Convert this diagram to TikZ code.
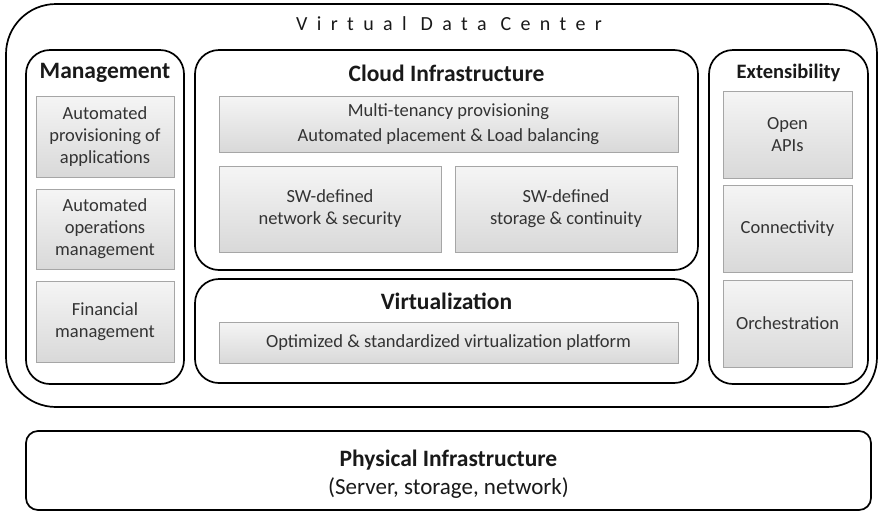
\documentclass[tikz,border=0pt]{standalone}
\usepackage{fontspec}
\setmainfont{Carlito}
\usetikzlibrary{shadows}
\tikzset{
  panel/.style={draw=black, line width=1.7pt, rounded corners=24pt, fill=white, inner sep=0pt},
  cell/.style={draw=gray!70, line width=0.8pt, top color=gray!8, bottom color=gray!30,
    inner sep=0pt, align=center, text=black!80, font=\fontsize{18.5}{22}\selectfont,
    drop shadow={opacity=0.25, shadow xshift=1pt, shadow yshift=-1pt}},
  heading/.style={font=\bfseries\fontsize{23.5}{26}\selectfont, text=black!90},
}
\begin{document}
\begin{tikzpicture}[x=1pt, y=-1pt]
\useasboundingbox (0,0) rectangle (880,512);
% outer data-center frame
\node[panel, rounded corners=50pt, minimum width=871pt, minimum height=403pt] (vdc) at (441.5,205.5) {};
\node[font=\fontsize{20}{24}\selectfont\addfontfeature{LetterSpace=47}, text=black!90] (vdctitle) at (449,24) {Virtual Data Center};

% management column
\node[panel, minimum width=158pt, minimum height=334pt] (mgmt) at (105,217) {};
\node[heading] (mgmttitle) at (105,73) {Management};
\node[cell, minimum width=138pt, minimum height=81pt] (m1) at (105,136.5) {Automated\\provisioning of\\applications};
\node[cell, minimum width=138pt, minimum height=80pt] (m2) at (105,229) {Automated\\operations\\management};
\node[cell, minimum width=138pt, minimum height=81pt] (m3) at (105,321.5) {Financial\\management};

% cloud infrastructure
\node[panel, minimum width=503pt, minimum height=220pt] (cloud) at (446.5,160) {};
\node[heading] (cloudtitle) at (446.5,73) {Cloud Infrastructure};
\node[cell, minimum width=459pt, minimum height=56pt, font=\fontsize{18.5}{25}\selectfont] (multi) at (448.5,124) {Multi-tenancy provisioning\\Automated placement \& Load balancing};
\node[cell, minimum width=222pt, minimum height=86pt] (swnet) at (330,209) {SW-defined\\network \& security};
\node[cell, minimum width=222pt, minimum height=86pt] (swsto) at (566,209) {SW-defined\\storage \& continuity};

% virtualization
\node[panel, minimum width=503pt, minimum height=104pt] (virt) at (446.5,331) {};
\node[heading] (virttitle) at (446.5,301) {Virtualization};
\node[cell, minimum width=459pt, minimum height=41pt] (vplat) at (448.5,342.5) {Optimized \& standardized virtualization platform};

% extensibility column
\node[panel, minimum width=159pt, minimum height=334pt] (ext) at (788.5,217) {};
\node[heading, font=\bfseries\fontsize{20.5}{24}\selectfont] (exttitle) at (788.5,73) {Extensibility};
\node[cell, minimum width=129pt, minimum height=87pt] (e1) at (787.5,134.5) {Open\\APIs};
\node[cell, minimum width=129pt, minimum height=87pt] (e2) at (787.5,228.5) {Connectivity};
\node[cell, minimum width=129pt, minimum height=87pt] (e3) at (787.5,323.5) {Orchestration};

% physical layer
\node[panel, rounded corners=12pt, minimum width=845pt, minimum height=79pt] (phys) at (448.5,470.5) {};
\node[heading] (phystitle) at (448.5,460) {Physical Infrastructure};
\node[font=\fontsize{23}{26}\selectfont, text=black!90] (physsub) at (448.5,488) {(Server, storage, network)};
\end{tikzpicture}
\end{document}
